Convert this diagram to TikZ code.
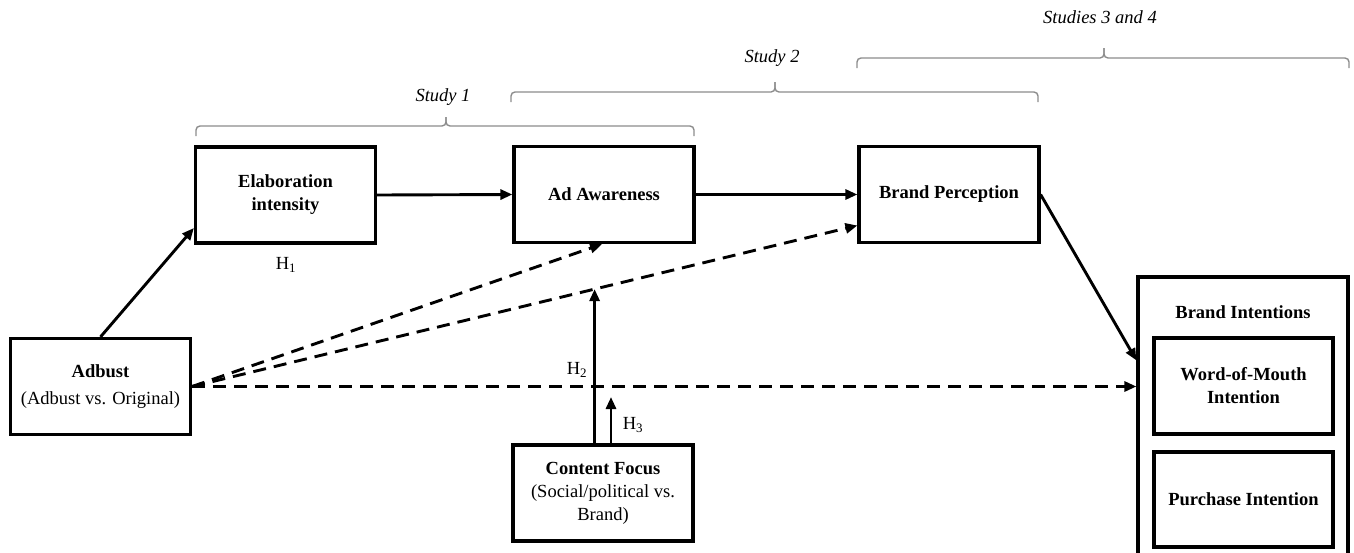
\documentclass[tikz,border=0pt]{standalone}
\usepackage{fontspec}
\setmainfont{Liberation Serif}
\usetikzlibrary{arrows.meta,calc}
\definecolor{bracegray}{RGB}{140,140,140}
\begin{document}
\begin{tikzpicture}[x=1pt,y=-1pt,
  font=\fontsize{18.5}{22}\selectfont,
  vbox/.style={draw, line width=3.2pt, minimum width=180pt, minimum height=96pt,
    align=center, inner sep=0pt, font=\fontsize{18.5}{23}\selectfont\bfseries},
  arr/.style={-{Triangle[length=12pt,width=10pt]}, line width=2.9pt},
  dsh/.style={arr, dash pattern=on 13pt off 8pt},
  brc/.style={draw=bracegray, line width=1.4pt, rounded corners=4pt},
  studylbl/.style={font=\fontsize{18.5}{20}\selectfont\itshape}]
\useasboundingbox (0,0) rectangle (1354,552);
\clip (0,0) rectangle (1354,552);

% boxes
\node[vbox] (elab) at (285.5,195) {Elaboration\\intensity};
\node[vbox] (aa) at (604,194.5) {Ad Awareness};
\node[vbox] (bp) at (949,194.5) {Brand Perception};
\node[vbox] (adb) at (100.5,386.5) {Adbust\\[4pt]{\mdseries (Adbust vs. Original)}};
\node[vbox] (cf) at (603,493) {Content Focus\\{\mdseries (Social/political vs.}\\{\mdseries Brand)}};
\node[draw, line width=3.2pt, minimum width=210pt, minimum height=279pt, inner sep=0pt] (bi) at (1243,416.5) {};
\node[font=\fontsize{18.5}{22}\selectfont\bfseries] (bit) at (1243,312) {Brand Intentions};
\node[vbox, minimum width=179pt] (wom) at (1243.5,386) {Word-of-Mouth\\Intention};
\node[vbox, minimum width=179pt, minimum height=95pt] (pi) at (1243.5,499.5) {Purchase Intention};

% hypothesis labels
\node (h1) at (286,265) {H\textsubscript{1}};
\node (h2) at (577,370) {H\textsubscript{2}};
\node (h3) at (633,425) {H\textsubscript{3}};

% connectors
\draw[arr] (adb.north) -- ([yshift=-33pt]elab.west);
\draw[arr] (elab.east) -- (aa.west);
\draw[arr] (aa.east) -- (bp.west);
\draw[arr] (bp.east) -- ([yshift=-85pt]bi.north west);
\draw[dsh] (adb.east) -- ([xshift=-2pt]aa.south);
\draw[dsh] (adb.east) -- coordinate[pos=0.605] (m) ([yshift=-31pt]bp.west);
\draw[dsh] (adb.east) -- (adb.east -| bi.west);
\draw[arr] (m |- cf.north) -- (m);
\coordinate (h3e) at (611,397);
\draw[arr] (h3e |- cf.north) -- (h3e);

% study braces
\draw[brc] (196,136) -- (196,126) -- (446,126) -- (446,117);
\draw[brc] (446,117) -- (446,126) -- (694,126) -- (694,136);
\node[studylbl] (s1) at (443,97) {Study 1};
\draw[brc] (511,102) -- (511,92) -- (775,92) -- (775,82);
\draw[brc] (775,82) -- (775,92) -- (1038,92) -- (1038,102);
\node[studylbl] (s2) at (772,58) {Study 2};
\draw[brc] (857,68) -- (857,58) -- (1104,58) -- (1104,48);
\draw[brc] (1104,48) -- (1104,58) -- (1349,58) -- (1349,68);
\node[studylbl] (s34) at (1100,17) {Studies 3 and 4};
\end{tikzpicture}
\end{document}
